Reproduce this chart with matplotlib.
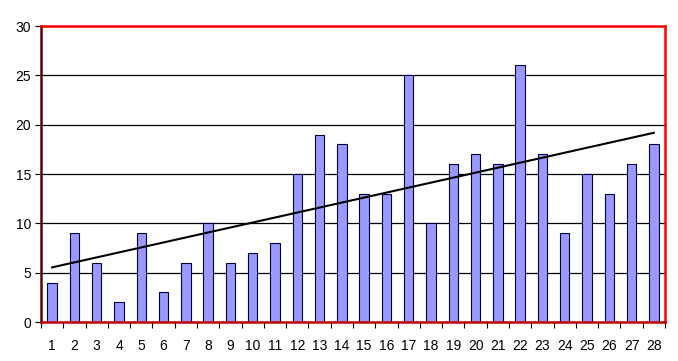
import matplotlib
matplotlib.use("Agg")
import matplotlib.pyplot as plt
import numpy as np

categories = list(range(1, 29))
values = [4, 9, 6, 2, 9, 3, 6, 10, 6, 7, 8, 15, 19, 18, 13, 13, 25, 10, 16, 17, 16, 26, 17, 9, 15, 13, 16, 18]
yticks = [0, 5, 10, 15, 20, 25, 30]

plt.rcParams['font.family'] = ['Liberation Sans', 'DejaVu Sans']

fig = plt.figure(figsize=(6.78, 3.61), dpi=100)
ax = fig.add_axes([41/678, 1-322/361, (665-41)/678, (322-26)/361])

x = np.array(categories, dtype=float)
ax.bar(x, values, width=0.42, color='#9999FF', edgecolor='#000040', linewidth=0.8, zorder=3)

coef = np.polyfit(x, values, 1)
ax.plot([x[0], x[-1]], np.polyval(coef, [x[0], x[-1]]), color='black', linewidth=1.5, zorder=4)

ax.set_xlim(0.5, 28.5)
ax.set_ylim(0, 30)
ax.set_yticks(yticks)
ax.yaxis.grid(True, color='black', linewidth=0.9, zorder=0)
ax.set_axisbelow(True)

ax.set_xticks(x)
ax.set_xticklabels([str(c) for c in categories])
ax.set_xticks(np.arange(0.5, 29, 1.0), minor=True)
ax.tick_params(axis='x', which='major', length=0, pad=12, labelsize=10)
ax.tick_params(axis='x', which='minor', length=4, width=0.8, color='black', direction='out')
ax.tick_params(axis='y', which='major', length=4, width=0.8, direction='out', labelsize=10, pad=3)

ax.spines['top'].set_color('#FF0000')
ax.spines['right'].set_color('#FF0000')
ax.spines['left'].set_color('#600000')
ax.spines['bottom'].set_color('#C00000')
for s in ax.spines.values():
    s.set_linewidth(1.8)
    s.set_zorder(5)

fig.savefig('out.png', dpi=100, facecolor='white')
